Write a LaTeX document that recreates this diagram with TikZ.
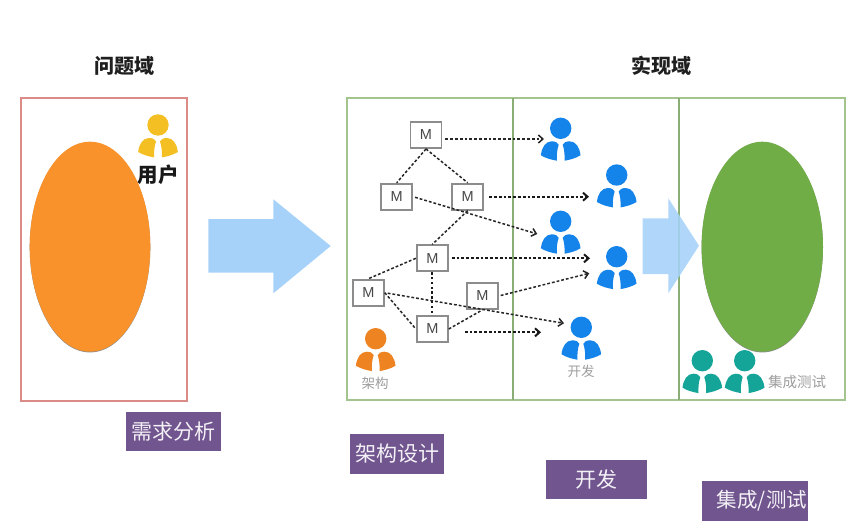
\documentclass[tikz,border=0pt]{standalone}
\usepackage{fontspec}
\setmainfont{Noto Sans CJK SC}
\newfontfamily\latinfont{Liberation Sans}
\usetikzlibrary{arrows.meta}
\definecolor{zonegreen}{HTML}{A3C48E}
\definecolor{dividergreen}{HTML}{8AAF74}
\definecolor{zonered}{HTML}{DB8B85}
\definecolor{ovalorange}{HTML}{F9922A}
\definecolor{ovalgreen}{HTML}{70AD47}
\definecolor{flowblue}{HTML}{A6D2FA}
\definecolor{tagpurple}{HTML}{70558F}
\definecolor{peopleblue}{HTML}{1484EA}
\definecolor{peopleorange}{HTML}{EE8421}
\definecolor{peopleyellow}{HTML}{F4BF22}
\definecolor{peopleteal}{HTML}{14A598}
\tikzset{
  x=1pt, y=-1pt,
  pics/person/.style={code={
    \fill[#1] (0,0) circle (10.7);
    \fill[#1] (-2,16.5) .. controls (-2.8,14.6) and (-5,13) .. (-9,13)
      .. controls (-15,13) and (-19,19) .. (-19.8,27)
      .. controls (-15,30) and (-9,31.5) .. (-3.8,32.4) .. controls (-4.2,27) and (-3.6,21) .. (-2,16.5) -- cycle;
    \fill[#1] (2,16.5) .. controls (2.8,14.6) and (5,13) .. (9,13)
      .. controls (15,13) and (19,19) .. (19.8,27)
      .. controls (15,30) and (9,31.5) .. (3.8,32.4) .. controls (4.2,27) and (3.6,21) .. (2,16.5) -- cycle;
  }},
  module/.style={draw=black!45, line width=1.9pt, fill=white, minimum width=31pt, minimum height=26pt,
    inner sep=0pt, font=\latinfont\fontsize{14.5}{16}\selectfont, text=black!72},
  tag/.style={fill=tagpurple, text=white!92!tagpurple, inner sep=0pt, font=\fontsize{21}{24}\selectfont},
  heading/.style={font=\fontsize{20}{24}\selectfont\bfseries, text=black!88},
  note/.style={font=\fontsize{13.5}{16}\selectfont, text=black!38},
  link/.style={draw=black!85, line width=1.5pt, dash pattern=on 2.8pt off 2pt},
  linkheavy/.style={draw=black!90, line width=2pt, dash pattern=on 2.6pt off 1.8pt},
  flow/.style={-{Straight Barb[length=4.5pt,width=8pt]}, dash pattern=on 2.8pt off 2pt},
}
\begin{document}
\begin{tikzpicture}
\useasboundingbox (0,0) rectangle (865,527);
\fill[white] (0,0) rectangle (865,527);

% problem domain
\draw[zonered, line width=1.7pt] (21,98.3) rectangle (187.3,400.7);
\fill[black!45] (90,247.4) ellipse [x radius=60.3, y radius=105];
\fill[ovalorange] (90,246.7) ellipse [x radius=60.3, y radius=105];
\pic at (158,125) {person=peopleyellow};
\node[heading] (problem) at (124,66) {问题域};
\node[font=\fontsize{20.5}{24}\selectfont\bfseries, text=black!90] (user) at (158,175) {用户};
\fill[flowblue] (208.3,219) -- (273.3,219) -- (273.3,199.3) -- (330.7,246) -- (273.3,293.3) -- (273.3,272.7) -- (208.3,272.7) -- cycle;

% solution domain: three phases
\draw[zonegreen, line width=1.9pt] (346.7,98.3) rectangle (845,400);
\draw[dividergreen, line width=1.9pt] (512.7,98.3) -- (512.7,400);
\draw[dividergreen, line width=1.9pt] (679.3,98.3) -- (679.3,400);
\fill[black!45] (762.3,247.4) ellipse [x radius=60.7, y radius=105];
\fill[ovalgreen] (762.3,246.7) ellipse [x radius=60.7, y radius=105];
\fill[flowblue, fill opacity=0.88] (642.7,218.3) -- (668.3,218.3) -- (668.3,198.3) -- (699,245.7) -- (668.3,293.3) -- (668.3,274) -- (642.7,274) -- cycle;
\node[heading] (solution) at (661,66) {实现域};

% people
\pic at (560.7,128.3) {person=peopleblue};
\pic at (616.7,175) {person=peopleblue};
\pic at (560.7,221.3) {person=peopleblue};
\pic at (616.7,256.7) {person=peopleblue};
\pic at (581.3,327.3) {person=peopleblue};
\pic at (375.7,338.7) {person=peopleorange};
\pic at (702.3,360.7) {person=peopleteal};
\pic at (744.7,360.7) {person=peopleteal};
\node[note] (arch) at (375,383) {架构};
\node[note] (dev) at (581,371) {开发};
\node[note, font=\fontsize{14.5}{16}\selectfont] (qa) at (797,382) {集成测试};

% modules
\node[module] (M1) at (426,135) {M};
\node[module] (M2) at (396.7,196.7) {M};
\node[module] (M3) at (467.7,196.7) {M};
\node[module] (M4) at (432.3,258.3) {M};
\node[module] (M5) at (368.3,292.7) {M};
\node[module] (M6) at (482.3,296) {M};
\node[module] (M7) at (432.3,329) {M};

% free ends of the assignment arrows
\coordinate (a1) at (544,139);
\coordinate (a2) at (589,196.7);
\coordinate (a3) at (537.3,234);
\coordinate (a4) at (590,258.3);
\coordinate (a5) at (589.3,273.3);
\coordinate (a6) at (564,323.3);
\coordinate (a7) at (541,332.3);

% module dependencies
\draw[link] (M1.south) -- (M2.north);
\draw[link] (M1.south) -- (M3.north);
\draw[link] (M3.south) -- (M4.north);
\draw[link] (M4.west) -- (M5.north);
\draw[link] (M5.east) -- (M7.west);
\draw[link] (M7.east) -- (M6.south);
\draw[linkheavy, dash pattern=on 2.4pt off 2.4pt] (M4.south) -- (M7.north);

% module assignments
\draw[link, flow, shorten <=3pt] (M1.east |- a1) -- (a1);
\draw[linkheavy, flow, shorten <=5pt] (M3.east) -- (a2);
\draw[link, flow, shorten <=2pt] (M2.east) -- (a3);
\draw[linkheavy, flow, shorten <=3pt] (M4.east) -- (a4);
\draw[link, flow, shorten <=2pt] (M6.east) -- (a5);
\draw[link, flow, shorten <=3pt] (M5.east) -- (a6);
\draw[linkheavy, flow, shorten <=16pt] (M7.east |- a7) -- (a7);

% process stage tags
\node[tag, minimum width=95pt, minimum height=39.5pt] (t1) at (173.5,431.3) {需求分析};
\node[tag, minimum width=94pt, minimum height=40pt] (t2) at (397,454) {架构设计};
\node[tag, minimum width=101pt, minimum height=39pt] (t3) at (596.5,479.5) {开发};
\node[tag, minimum width=106pt, minimum height=40pt, font=\fontsize{20.5}{24}\selectfont] (t4) at (755,501) {\hspace*{14pt}集成/测试};
\end{tikzpicture}
\end{document}
